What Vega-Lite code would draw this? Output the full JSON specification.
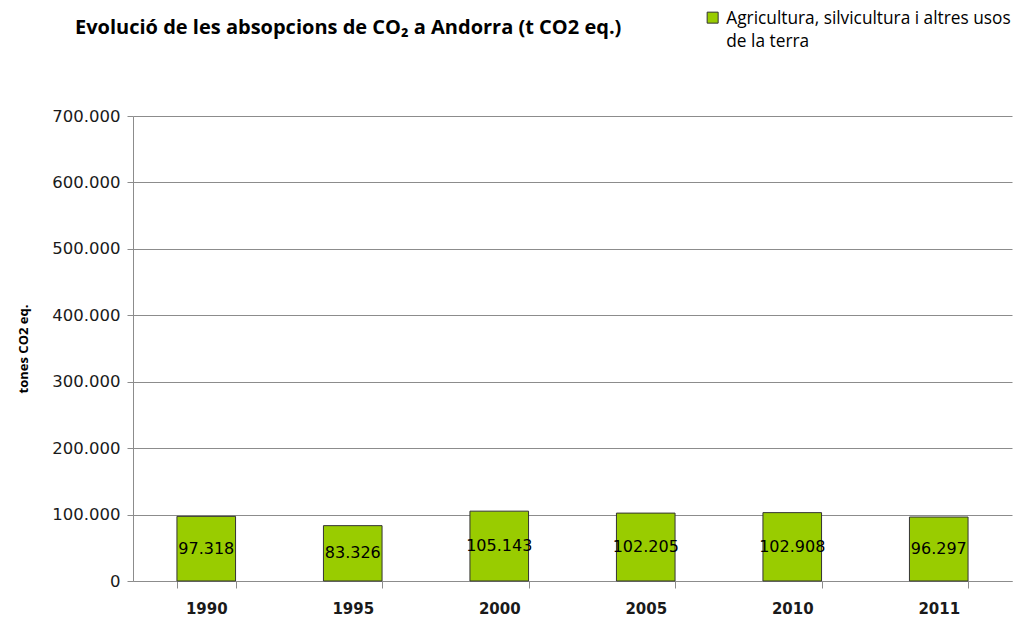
{
  "$schema": "https://vega.github.io/schema/vega-lite/v6.json",
  "width": 879,
  "height": 465,
  "autosize": {"type": "none"},
  "padding": {"left": 133, "top": 116, "right": 1, "bottom": 36},
  "background": "white",
  "title": {
    "text": "Evolució de les absopcions de CO₂  a Andorra (t CO2 eq.)",
    "anchor": "start",
    "frame": "group",
    "dx": -58,
    "offset": -29,
    "font": "Open Sans",
    "fontSize": 20,
    "fontWeight": "bold",
    "color": "#000000"
  },
  "data": {
    "values": [
      {"year": "1990", "value": 97318, "serie": "Agricultura, silvicultura i altres usos de la terra"},
      {"year": "1995", "value": 83326, "serie": "Agricultura, silvicultura i altres usos de la terra"},
      {"year": "2000", "value": 105143, "serie": "Agricultura, silvicultura i altres usos de la terra"},
      {"year": "2005", "value": 102205, "serie": "Agricultura, silvicultura i altres usos de la terra"},
      {"year": "2010", "value": 102908, "serie": "Agricultura, silvicultura i altres usos de la terra"},
      {"year": "2011", "value": 96297, "serie": "Agricultura, silvicultura i altres usos de la terra"}
    ]
  },
  "encoding": {
    "x": {
      "field": "year",
      "type": "nominal",
      "scale": {"paddingInner": 0.6, "paddingOuter": 0.3},
      "axis": {
        "title": null,
        "labelAngle": 0,
        "labelFont": "DejaVu Sans",
        "labelFontSize": 15,
        "labelFontWeight": "bold",
        "labelColor": "#1a1a1a",
        "labelPadding": 13,
        "tickBand": "extent",
        "tickSize": 7,
        "tickColor": "#8c8c8c",
        "domainColor": "#8c8c8c",
        "grid": false
      }
    }
  },
  "layer": [
    {
      "mark": {"type": "bar", "fill": "#99CC00", "stroke": "#333333", "strokeWidth": 1},
      "encoding": {
        "y": {
          "field": "value",
          "type": "quantitative",
          "stack": "zero",
          "scale": {"domain": [0, 700000], "nice": false},
          "axis": {
            "title": "tones CO2 eq.",
            "titleFont": "Open Sans",
            "titleFontSize": 13,
            "titleFontWeight": "bold",
            "titleColor": "#000000",
            "titlePadding": 21,
            "values": [0, 100000, 200000, 300000, 400000, 500000, 600000, 700000],
            "labelExpr": "replace(format(datum.value, ',d'), /,/g, '.')",
            "labelFont": "DejaVu Sans",
            "labelFontSize": 16.5,
            "labelColor": "#1a1a1a",
            "labelPadding": 7,
            "tickSize": 6,
            "tickColor": "#8c8c8c",
            "domainColor": "#8c8c8c",
            "gridColor": "#8c8c8c",
            "gridOpacity": 1
          }
        },
        "color": {
          "field": "serie",
          "type": "nominal",
          "scale": {"range": ["#99CC00"]},
          "legend": {
            "orient": "none",
            "legendX": 571,
            "legendY": -107,
            "title": null,
            "symbolType": "square",
            "symbolSize": 121,
            "symbolStrokeColor": "#333333",
            "symbolStrokeWidth": 1,
            "symbolOffset": 0,
            "labelFont": "Open Sans",
            "labelFontSize": 17.3,
            "labelColor": "#000000",
            "labelLimit": 400,
            "labelExpr": "['Agricultura, silvicultura i altres usos', 'de la terra']",
            "labelBaseline": "top",
            "labelOffset": 5,
            "encode": {
              "labels": {"update": {"lineHeight": {"value": 23}, "dy": {"value": -8}}}
            }
          }
        }
      }
    },
    {
      "mark": {"type": "text", "font": "DejaVu Sans", "fontSize": 16, "color": "#000000", "baseline": "middle"},
      "encoding": {
        "y": {"field": "value", "type": "quantitative", "stack": "zero", "bandPosition": 0.5},
        "text": {"field": "value", "type": "quantitative", "format": ",d"}
      }
    }
  ],
  "config": {
    "view": {"stroke": null},
    "locale": {"number": {"decimal": ",", "thousands": ".", "grouping": [3], "currency": ["", " €"]}}
  }
}
